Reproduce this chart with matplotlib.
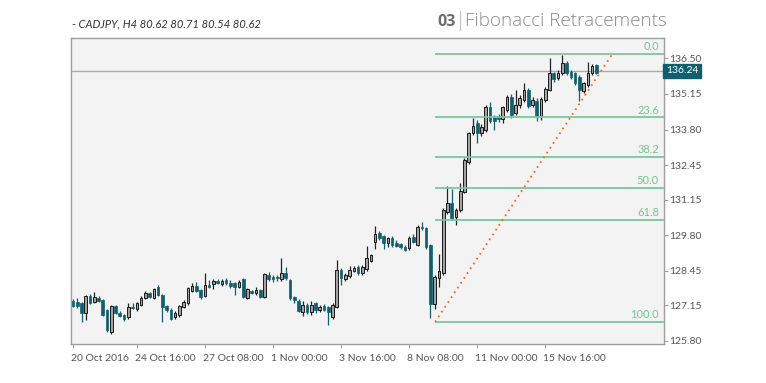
import matplotlib
matplotlib.use("Agg")
import matplotlib.pyplot as plt
import matplotlib.transforms as mtransforms
import numpy as np

# ---------------- data ----------------
opens = [127.33,127.29,127.23,126.85,127.51,127.29,127.44,127.35,126.97,126.15,
         127.12,126.87,126.78,126.70,127.10,127.00,127.16,127.42,127.60,127.44,
         127.86,127.54,127.12,126.99,126.70,126.78,127.10,127.23,127.70,127.88,
         127.73,127.51,127.92,127.94,128.08,127.94,128.11,128.01,127.98,127.86,
         128.13,127.42,127.68,127.60,127.73,127.48,128.30,128.23,128.23,128.13,
         128.39,128.11,127.48,127.33,126.91,127.16,126.91,127.23,126.97,127.12,
         127.07,126.70,127.10,128.49,128.13,128.26,128.46,128.59,128.36,128.51,
         128.84,129.53,129.87,129.77,129.50,129.68,129.52,129.46,129.37,129.31,
         129.75,129.43,130.13,130.06,129.43,127.20,128.17,128.36,130.69,131.04,
         130.51,130.76,131.45,132.59,133.66,134.04,133.66,133.79,134.64,134.29,
         134.32,134.19,134.54,135.05,134.42,134.73,134.92,135.30,134.73,134.90,
         134.32,134.92,135.30,135.93,135.74,135.93,136.31,135.99,135.93,135.78,
         135.28,135.49,135.96,136.25]
highs = [127.38,127.44,127.28,127.55,127.56,127.64,127.50,127.40,127.00,127.15,
         127.18,126.95,126.82,127.22,127.25,127.28,127.50,127.68,127.65,127.82,
         127.92,127.58,127.18,127.04,126.92,127.16,127.36,127.84,127.98,128.02,
         127.78,128.36,128.10,128.14,128.15,128.16,128.20,128.10,128.04,128.10,
         128.18,127.82,127.72,127.84,127.78,128.36,128.40,128.28,128.30,128.95,
         128.60,128.16,127.52,127.38,127.30,127.22,127.30,127.28,127.16,127.20,
         127.12,127.22,128.86,128.55,128.38,128.62,128.64,128.66,128.66,129.40,
         129.08,130.15,129.98,129.82,129.75,129.78,129.62,129.52,129.42,129.78,
         129.85,130.20,130.32,130.10,129.48,128.28,129.09,130.82,131.67,131.55,
         130.85,131.77,132.72,133.72,134.23,134.15,134.00,134.72,134.86,134.35,
         134.40,134.70,135.12,135.15,135.30,135.10,135.55,135.38,135.05,134.98,
         135.05,135.40,136.50,136.00,136.05,136.62,136.40,136.05,136.00,135.85,
         135.62,136.37,136.30,136.30]
lows = [127.08,127.04,126.53,126.59,127.20,127.22,127.26,126.74,126.15,126.07,
        126.82,126.70,126.55,126.65,127.00,126.95,127.12,127.38,127.42,127.40,
        127.50,126.53,126.90,126.58,126.64,126.72,127.03,127.18,127.66,127.64,
        127.40,127.45,127.80,127.78,127.95,127.90,127.92,127.82,127.54,127.80,
        127.44,127.38,127.56,127.55,127.44,127.44,128.08,128.05,128.08,128.08,
        128.10,127.36,127.22,126.90,126.75,126.82,126.80,126.85,126.90,126.92,
        126.40,126.62,127.04,127.92,128.08,128.20,128.40,128.30,128.30,128.45,
        128.80,129.28,129.62,129.30,129.35,129.36,129.34,129.30,129.20,129.26,
        129.50,129.38,130.00,129.30,126.66,127.00,127.83,128.30,130.62,130.38,
        130.19,130.70,131.40,132.50,133.60,133.31,133.55,133.70,134.05,133.79,
        134.10,134.05,134.45,134.25,134.35,134.60,134.85,134.62,134.65,134.14,
        134.16,134.85,135.25,135.62,135.66,135.86,135.85,135.72,135.50,134.90,
        135.20,135.40,135.85,135.90]
closes = [127.12,127.12,126.85,127.51,127.25,127.48,127.33,126.78,126.21,127.12,
          126.87,126.75,126.62,127.10,127.04,127.23,127.44,127.60,127.48,127.76,
          127.54,127.07,126.97,126.62,126.87,127.12,127.29,127.79,127.88,127.69,
          127.48,127.92,127.86,128.08,128.01,128.08,127.98,127.88,127.86,128.04,
          127.48,127.76,127.60,127.73,127.48,128.32,128.13,128.13,128.17,128.39,
          128.17,127.41,127.35,126.95,127.16,126.91,127.16,126.97,127.10,126.99,
          126.91,127.16,128.49,128.17,128.30,128.49,128.55,128.36,128.59,128.93,
          129.04,129.85,129.68,129.50,129.68,129.43,129.39,129.37,129.24,129.70,
          129.56,130.13,130.06,129.37,127.20,128.21,128.46,130.76,131.04,130.44,
          130.76,131.49,132.65,133.66,133.94,133.66,133.91,134.64,134.14,134.14,
          134.19,134.64,135.05,134.35,134.73,135.01,135.30,134.69,134.92,134.32,
          134.95,135.33,135.93,135.70,135.96,136.31,135.93,135.80,135.58,135.30,
          135.55,135.96,136.22,135.96]

x_tick_bars = [0, 15, 31, 47, 63, 79, 95, 111]
x_tick_labels = ["20 Oct 2016", "24 Oct 16:00", "27 Oct 08:00", "1 Nov 00:00",
                 "3 Nov 16:00", "8 Nov 08:00", "11 Nov 00:00", "15 Nov 16:00"]
y_ticks = [125.80, 127.15, 128.45, 129.80, 131.15, 132.45, 133.80, 135.15, 136.50]
y_tick_labels = ["125.80", "127.15", "128.45", "129.80", "131.15", "132.45",
                 "133.80", "135.15", "136.50"]

fib_low, fib_high = 126.52, 136.65
fib_start_bar, fib_end_bar = 85.1, 126.7
fib_levels = [0.0, 23.6, 38.2, 50.0, 61.8, 100.0]
fib_labels = ["0.0", "23.6", "38.2", "50.0", "61.8", "100.0"]

price_line = 136.03
price_label = "136.24"

header_left = "- CADJPY, H4 80.62 80.71 80.54 80.62"
title_num = "03"
title_text = "Fibonacci Retracements"

# ---------------- style ----------------
TEAL = "#0f5f6f"
UPFILL = "#a3a3a3"
FIBC = "#7cc69b"
FIBT = "#76c493"
FONT = ["Lato", "DejaVu Sans"]
plt.rcParams["font.family"] = FONT

W, H = 766, 383
fig = plt.figure(figsize=(W / 100, H / 100), dpi=100)
fig.patch.set_facecolor("white")
L, R, T, B = 71, 664, 38.3, 344
ax = fig.add_axes([L / W, 1 - B / H, (R - L) / W, (B - T) / H])
ax.set_facecolor("#f3f3f3")

n = len(opens)
xs = np.arange(n)
o = np.array(opens); c = np.array(closes); hi = np.array(highs); lo = np.array(lows)
up = c >= o

# wicks
ax.vlines(xs[up], lo[up], hi[up], color="#222222", lw=0.9, zorder=2)
ax.vlines(xs[~up], lo[~up], hi[~up], color=TEAL, lw=0.9, zorder=2)
# bodies
bh = np.maximum(np.abs(c - o), 0.03)
bb = np.minimum(o, c)
ax.bar(xs[up], bh[up], bottom=bb[up], width=0.62, color=UPFILL,
       edgecolor="#1a1a1a", linewidth=0.7, zorder=3)
ax.bar(xs[~up], bh[~up], bottom=bb[~up], width=0.62, color=TEAL,
       edgecolor=TEAL, linewidth=0.5, zorder=3)

x_left = (L - 73) / 4.255
x_right = (R - 73) / 4.255
ax.set_xlim(x_left, x_right)
y_of = lambda py: 136.50 - (py - 58.3) / 26.42
ax.set_ylim(y_of(B), y_of(T))

# fib levels
rng = fib_high - fib_low
for lvl, lab in zip(fib_levels, fib_labels):
    p = fib_high - rng * lvl / 100.0
    ax.plot([fib_start_bar, x_right], [p, p], color=FIBC, lw=1.3, zorder=4,
            solid_capstyle="butt")
    ax.text(137.7, p + 0.07, lab, ha="right", va="bottom", color=FIBT,
            fontsize=8, zorder=5)

# trend line
ax.plot([fib_start_bar, fib_end_bar], [fib_low, fib_high], color="#f26a21",
        lw=1.3, ls=(0, (1, 2.2)), zorder=5)

# current price line
ax.axhline(price_line, color="#a9a9a9", lw=1.0, zorder=1)
trans = mtransforms.blended_transform_factory(ax.transAxes, ax.transData)
ax.text(1.003, price_line, price_label, transform=trans, ha="left", va="center",
        color="white", fontsize=7.5, zorder=6, clip_on=False,
        bbox=dict(boxstyle="square,pad=0.25", fc=TEAL, ec=TEAL))

# axes styling
for s in ax.spines.values():
    s.set_color("#9e9e9e")
    s.set_linewidth(1.0)
ax.yaxis.tick_right()
ax.set_yticks(y_ticks)
ax.set_yticklabels(y_tick_labels)
ax.tick_params(axis="y", length=3, width=0.8, color="#9e9e9e", labelcolor="#555555",
               labelsize=7.5, pad=1)
ax.set_xticks(x_tick_bars)
ax.set_xticklabels(x_tick_labels, ha="left")
ax.tick_params(axis="x", length=3, width=0.8, color="#9e9e9e", labelcolor="#555555",
               labelsize=7.5, pad=4)
offset = mtransforms.ScaledTranslation(-2 / 100, 0, fig.dpi_scale_trans)
for lbl in ax.get_xticklabels():
    lbl.set_transform(lbl.get_transform() + offset)

# header
fig.text(72 / W, 1 - 24 / H, header_left, ha="left", va="center", fontsize=8,
         style="italic", color="#333333")
t = fig.text(667 / W, 1 - 21 / H, title_text, ha="right", va="center",
             fontsize=13.6, color="#8a8a8a", family=["Open Sans", "DejaVu Sans"],
             fontweight="light")
fig.canvas.draw()
bb_t = t.get_window_extent()
sep = fig.text((bb_t.x0 - 5) / W, 1 - 21 / H, "|", ha="center", va="center",
               fontsize=15, color="#bbbbbb", family=["Open Sans", "DejaVu Sans"],
               fontweight="light")
fig.text((bb_t.x0 - 10) / W, 1 - 22 / H, title_num, ha="right", va="center",
         fontsize=11.5, color="#6e6e6e", family=["Open Sans", "DejaVu Sans"],
         fontweight="bold")

fig.savefig("out.png", dpi=100, facecolor="white")
